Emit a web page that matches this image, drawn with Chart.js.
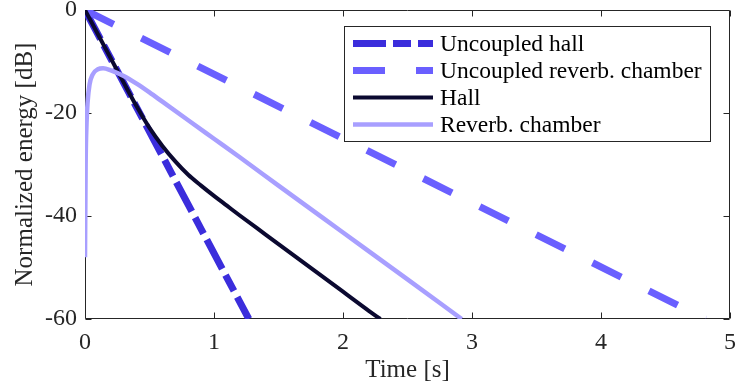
<!DOCTYPE html>
<html>
<head>
<meta charset="utf-8">
<script src="https://cdn.jsdelivr.net/npm/chart.js@4"></script>
<style>
  html, body { margin: 0; padding: 0; background: #fff; }
  #wrap { width: 736px; height: 392px; }
</style>
</head>
<body>
<div id="wrap"><canvas id="decay-chart"></canvas></div>
<script>
// tick labels
const xTicks = [0, 1, 2, 3, 4, 5];
const yTicks = [0, -20, -40, -60];

// series (time in s, level in dB)
const uncoupledHallTime = [0, 1.27];
const uncoupledHallDb = [0, -60];

const uncoupledReverbTime = [0, 4.81];
const uncoupledReverbDb = [0, -60];

const hallTime = [0, 0.1, 0.2, 0.3, 0.4, 0.5, 0.6, 0.7, 0.8, 0.9, 1.0, 1.1, 1.2, 1.4, 1.6, 1.8, 2.0, 2.2, 2.29];
const hallDb = [0, -4.7, -9.4, -14.1, -18.7, -22.9, -26.4, -29.4, -32.0, -34.1, -36.1, -38.0, -39.9, -43.6, -47.3, -51.0, -54.7, -58.4, -60];

const reverbTime = [0, 0.005, 0.012, 0.02, 0.035, 0.06, 0.1, 0.14, 0.2, 0.3, 0.4, 0.5, 0.6, 0.8, 1.0, 1.2, 1.5, 2.0, 2.5, 2.92];
const reverbDb = [-48, -30, -22, -18, -14.5, -12.5, -11.5, -11.3, -11.7, -12.8, -14.3, -16.0, -17.8, -21.4, -25.0, -28.6, -34.1, -43.2, -52.3, -60];

const serif = "'Liberation Serif', 'Times New Roman', serif";
const axisColor = '#262626';

function toPoints(xs, ys) {
    return xs.map((x, i) => ({ x: x, y: ys[i] }));
}

// box with inward ticks on all four sides, like matlab
const boxPlugin = {
    id: 'box',
    beforeDatasetsDraw(chart) {
        const { ctx, chartArea: a, scales } = chart;
        const L = Math.round(a.left) + 0.5, R = Math.round(a.right) - 0.5;
        const T = Math.round(a.top) + 0.5, B = Math.round(a.bottom) - 0.5;
        const len = 6;
        ctx.save();
        ctx.strokeStyle = axisColor;
        ctx.lineWidth = 1;
        ctx.beginPath();
        ctx.rect(L, T, R - L, B - T);
        xTicks.forEach(v => {
            const px = Math.round(scales.x.getPixelForValue(v)) + 0.5;
            ctx.moveTo(px, B); ctx.lineTo(px, B - len);
            ctx.moveTo(px, T); ctx.lineTo(px, T + len);
        });
        yTicks.forEach(v => {
            const py = Math.round(scales.y.getPixelForValue(v)) + 0.5;
            ctx.moveTo(L, py); ctx.lineTo(L + len, py);
            ctx.moveTo(R, py); ctx.lineTo(R - len, py);
        });
        ctx.stroke();
        ctx.restore();
    }
};

// legend box in the upper right
const legendPlugin = {
    id: 'boxLegend',
    afterDatasetsDraw(chart) {
        const ctx = chart.ctx;
        const x0 = 344.5, y0 = 26.5, w = 366, h = 115;
        ctx.save();
        ctx.fillStyle = '#fff';
        ctx.fillRect(x0, y0, w, h);
        ctx.strokeStyle = axisColor;
        ctx.lineWidth = 1;
        ctx.strokeRect(x0, y0, w, h);
        ctx.font = '23.5px ' + serif;
        ctx.textBaseline = 'middle';
        chart.data.datasets.forEach((ds, i) => {
            const y = 43.5 + i * 27;
            ctx.strokeStyle = ds.borderColor;
            ctx.lineWidth = ds.borderWidth;
            ctx.setLineDash(ds.borderDash || []);
            ctx.lineCap = 'butt';
            ctx.beginPath();
            ctx.moveTo(353, y);
            ctx.lineTo(433, y);
            ctx.stroke();
            ctx.setLineDash([]);
            ctx.fillStyle = '#000';
            ctx.fillText(ds.label, 440, y + 1);
        });
        ctx.restore();
    }
};

new Chart(document.querySelector('#decay-chart').getContext('2d'), {
    type: 'line',
    data: {
        datasets: [
            {
                label: 'Uncoupled hall',
                data: toPoints(uncoupledHallTime, uncoupledHallDb),
                borderColor: '#3b2ddc',
                borderWidth: 7,
                borderDash: [33, 7, 18, 7],
                order: 3
            },
            {
                label: 'Uncoupled reverb. chamber',
                data: toPoints(uncoupledReverbTime, uncoupledReverbDb),
                borderColor: '#6a5fff',
                borderWidth: 7,
                borderDash: [32, 31],
                order: 2
            },
            {
                label: 'Hall',
                data: toPoints(hallTime, hallDb),
                borderColor: '#0b0930',
                borderWidth: 4,
                cubicInterpolationMode: 'monotone',
                order: 1
            },
            {
                label: 'Reverb. chamber',
                data: toPoints(reverbTime, reverbDb),
                borderColor: '#a89fff',
                borderWidth: 4.5,
                cubicInterpolationMode: 'monotone',
                order: 0
            }
        ]
    },
    options: {
        responsive: true,
        maintainAspectRatio: false,
        animation: false,
        layout: { padding: { top: 10, right: 6, left: 0, bottom: 0 } },
        elements: {
            point: { radius: 0 },
            line: { tension: 0, fill: false, borderJoinStyle: 'round' }
        },
        plugins: {
            legend: { display: false },
            tooltip: { enabled: false }
        },
        scales: {
            x: {
                type: 'linear',
                min: 0,
                max: 5,
                afterBuildTicks: s => { s.ticks = xTicks.map(v => ({ value: v })); },
                afterFit: s => { s.height = 73; s.paddingLeft = 0; s.paddingRight = 0; },
                ticks: { font: { family: serif, size: 24 }, color: axisColor, padding: 9, maxRotation: 0 },
                grid: { display: false, drawTicks: false },
                border: { display: false },
                title: {
                    display: true,
                    text: 'Time [s]',
                    font: { family: serif, size: 25 },
                    color: axisColor,
                    padding: { top: 0, bottom: 7 }
                }
            },
            y: {
                type: 'linear',
                min: -60,
                max: 0,
                afterBuildTicks: s => { s.ticks = yTicks.map(v => ({ value: v })); },
                afterFit: s => { s.width = 85; s.paddingTop = 0; s.paddingBottom = 0; },
                ticks: { font: { family: serif, size: 24 }, color: axisColor, padding: 8 },
                grid: { display: false, drawTicks: false },
                border: { display: false },
                title: {
                    display: true,
                    text: 'Normalized energy [dB]',
                    font: { family: serif, size: 25 },
                    color: axisColor,
                    padding: { top: 10, bottom: 0 }
                }
            }
        }
    },
    plugins: [boxPlugin, legendPlugin]
});
</script>
</body>
</html>
